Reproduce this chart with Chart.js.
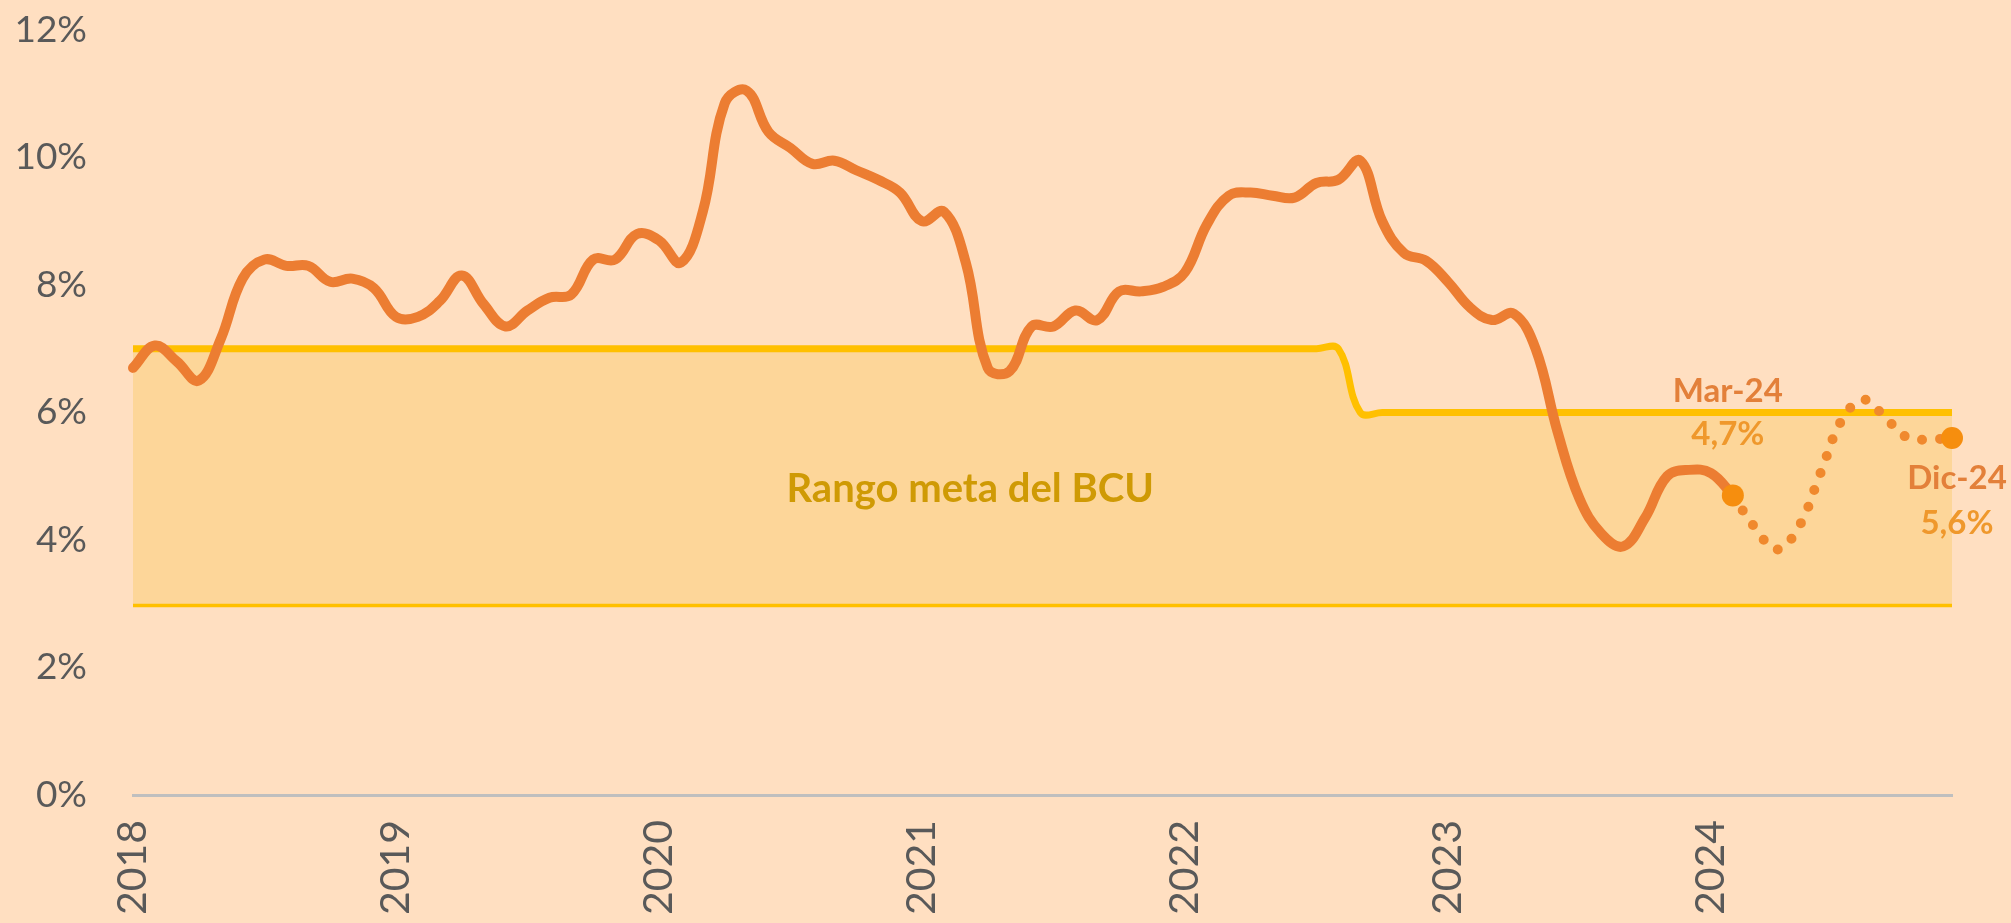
<!DOCTYPE html>
<html>
<head>
<meta charset="utf-8">
<title>Inflación y rango meta</title>
<script src="https://cdn.jsdelivr.net/npm/chart.js@4.4.1/dist/chart.umd.min.js"></script>
<style>
  html, body { margin: 0; padding: 0; background: #FFDFC1; }
  canvas { display: block; }
</style>
</head>
<body>
<canvas id="chart-1" width="2011" height="923"></canvas>
<script>
// Data

const monthNames = ['Ene', 'Feb', 'Mar', 'Abr', 'May', 'Jun', 'Jul', 'Ago', 'Set', 'Oct', 'Nov', 'Dic'];
const years = [2018, 2019, 2020, 2021, 2022, 2023, 2024];
const yTicks = [0, 2, 4, 6, 8, 10, 12];

// inflacion interanual observada (%)
const inflation2018 = [6.7, 7.05, 6.8, 6.5, 7.15, 8.1, 8.4, 8.3, 8.3, 8.05, 8.1, 7.95];
const inflation2019 = [7.5, 7.5, 7.75, 8.15, 7.7, 7.35, 7.6, 7.8, 7.85, 8.4, 8.4, 8.8];
const inflation2020 = [8.7, 8.35, 9.15, 10.85, 11.05, 10.4, 10.15, 9.9, 9.95, 9.8, 9.65, 9.45];
const inflation2021 = [9.0, 9.15, 8.35, 6.7, 6.65, 7.35, 7.35, 7.6, 7.45, 7.9, 7.9, 7.97];
const inflation2022 = [8.2, 8.95, 9.4, 9.45, 9.4, 9.37, 9.6, 9.65, 9.95, 9.0, 8.5, 8.38];
const inflation2023 = [8.05, 7.65, 7.45, 7.55, 7.0, 5.7, 4.65, 4.1, 3.9, 4.35, 5.0, 5.1];
const inflation2024 = [5.05, 4.7];

// trayectoria esperada hasta Dic-24 (arranca en el ultimo dato)
const forecast2024 = [null, 4.7, 4.2, 3.85, 4.2, 5.05, 5.9, 6.2, 5.9, 5.6, 5.58, 5.6];

// rango meta del BCU, techo y piso (%)
const targetHigh2018 = [7, 7, 7, 7, 7, 7, 7, 7, 7, 7, 7, 7];
const targetHigh2019 = [7, 7, 7, 7, 7, 7, 7, 7, 7, 7, 7, 7];
const targetHigh2020 = [7, 7, 7, 7, 7, 7, 7, 7, 7, 7, 7, 7];
const targetHigh2021 = [7, 7, 7, 7, 7, 7, 7, 7, 7, 7, 7, 7];
const targetHigh2022 = [7, 7, 7, 7, 7, 7, 7, 7, 6, 6, 6, 6];
const targetHigh2023 = [6, 6, 6, 6, 6, 6, 6, 6, 6, 6, 6, 6];
const targetHigh2024 = [6, 6, 6, 6, 6, 6, 6, 6, 6, 6, 6, 6];
const targetLowYear = [3, 3, 3, 3, 3, 3, 3, 3, 3, 3, 3, 3];

// Build the series

const labels = years.flatMap(y => monthNames.map(m => m + '-' + String(y).slice(2)));

const inflation = [].concat(inflation2018, inflation2019, inflation2020, inflation2021,
    inflation2022, inflation2023, inflation2024);
const forecast = new Array(72).fill(null).concat(forecast2024);
const targetHigh = [].concat(targetHigh2018, targetHigh2019, targetHigh2020, targetHigh2021,
    targetHigh2022, targetHigh2023, targetHigh2024);
const targetLow = years.flatMap(() => targetLowYear);

const lastObs = inflation.length - 1;
const lastFc = forecast.length - 1;

function pct(v) {
    return v.toFixed(1).replace('.', ',') + '%';
}

// Text labels on top of the chart

const notes = {
    id: 'notes',
    afterDatasetsDraw(chart) {
        const ctx = chart.ctx;
        const x = chart.scales.x;
        const y = chart.scales.y;
        ctx.save();
        ctx.textBaseline = 'alphabetic';

        // band label
        ctx.font = 'bold 40px Lato';
        ctx.textAlign = 'left';
        ctx.fillStyle = '#CF9A05';
        ctx.fillText('Rango meta del BCU', x.getPixelForValue(30) - 4, y.getPixelForValue(4.59));

        // last observed point
        ctx.font = 'bold 33px Lato';
        ctx.textAlign = 'center';
        let px = x.getPixelForValue(lastObs);
        let py = y.getPixelForValue(inflation[lastObs]);
        ctx.fillStyle = '#E3803A';
        ctx.fillText('Mar-24', px - 5, py - 93);
        ctx.fillStyle = '#EF982C';
        ctx.fillText(pct(inflation[lastObs]), px - 5, py - 50);

        // end of forecast
        px = x.getPixelForValue(lastFc);
        py = y.getPixelForValue(forecast[lastFc]);
        ctx.fillStyle = '#E3803A';
        ctx.fillText('Dic-24', px + 5, py + 51);
        ctx.fillStyle = '#EF982C';
        ctx.fillText(pct(forecast[lastFc]), px + 5, py + 96);

        ctx.restore();
    }
};

// Chart

const config1 = {
    type: 'line',
    data: {
        labels: labels,
        datasets: [{
            label: 'Inflación',
            data: inflation,
            borderColor: '#EC7D32',
            borderWidth: 10,
            borderCapStyle: 'round',
            tension: 0.4,
            fill: false,
            clip: false,
            pointRadius: ctx => ctx.dataIndex === lastObs ? 11 : 0,
            pointBackgroundColor: '#F68E0E',
            pointBorderWidth: 0,
        }, {
            label: 'Expectativas',
            data: forecast,
            borderColor: '#F0892D',
            borderWidth: 10,
            borderDash: [0, 18],
            borderCapStyle: 'round',
            tension: 0.4,
            fill: false,
            clip: false,
            pointRadius: ctx => ctx.dataIndex === lastFc ? 11 : 0,
            pointBackgroundColor: '#F68E0E',
            pointBorderWidth: 0,
        }, {
            label: 'Techo',
            data: targetHigh,
            borderColor: '#FFC000',
            borderWidth: 7,
            tension: 0.4,
            backgroundColor: '#FDD699',
            fill: '+1',
            pointRadius: 0,
        }, {
            label: 'Piso',
            data: targetLow,
            borderColor: '#FFC000',
            borderWidth: 7,
            tension: 0,
            fill: false,
            pointRadius: 0,
        }],
    },
    options: {
        responsive: false,
        devicePixelRatio: 1,
        animation: false,
        layout: {
            padding: { top: 30, right: 59, bottom: 0, left: 0 }
        },
        plugins: {
            legend: { display: false },
            tooltip: { enabled: false },
        },
        scales: {
            x: {
                type: 'category',
                offset: false,
                grid: { display: false, drawTicks: false },
                border: { display: true, color: '#BFBFBF', width: 3 },
                afterFit: s => { s.height = 128; },
                ticks: {
                    autoSkip: false,
                    maxRotation: 90,
                    minRotation: 90,
                    padding: 25,
                    color: '#595959',
                    font: { family: 'Lato', size: 41 },
                    callback: (v, i) => i % 12 === 0 ? String(years[i / 12]) : null,
                }
            },
            y: {
                min: yTicks[0],
                max: yTicks[yTicks.length - 1],
                grid: { display: false, drawTicks: false },
                border: { display: false },
                afterFit: s => {
                    s.width = 133;
                    // tick padding is only meant horizontally here
                    s.paddingTop = 0;
                    s.paddingBottom = 0;
                },
                afterBuildTicks: s => { s.ticks = yTicks.map(v => ({ value: v })); },
                ticks: {
                    padding: 46,
                    color: '#595959',
                    font: { family: 'Lato', size: 37 },
                    callback: v => v + '%',
                }
            }
        }
    },
    plugins: [notes],
};

const context1 = document.getElementById('chart-1').getContext('2d');
const chart1 = new Chart(context1, config1);
</script>
</body>
</html>
